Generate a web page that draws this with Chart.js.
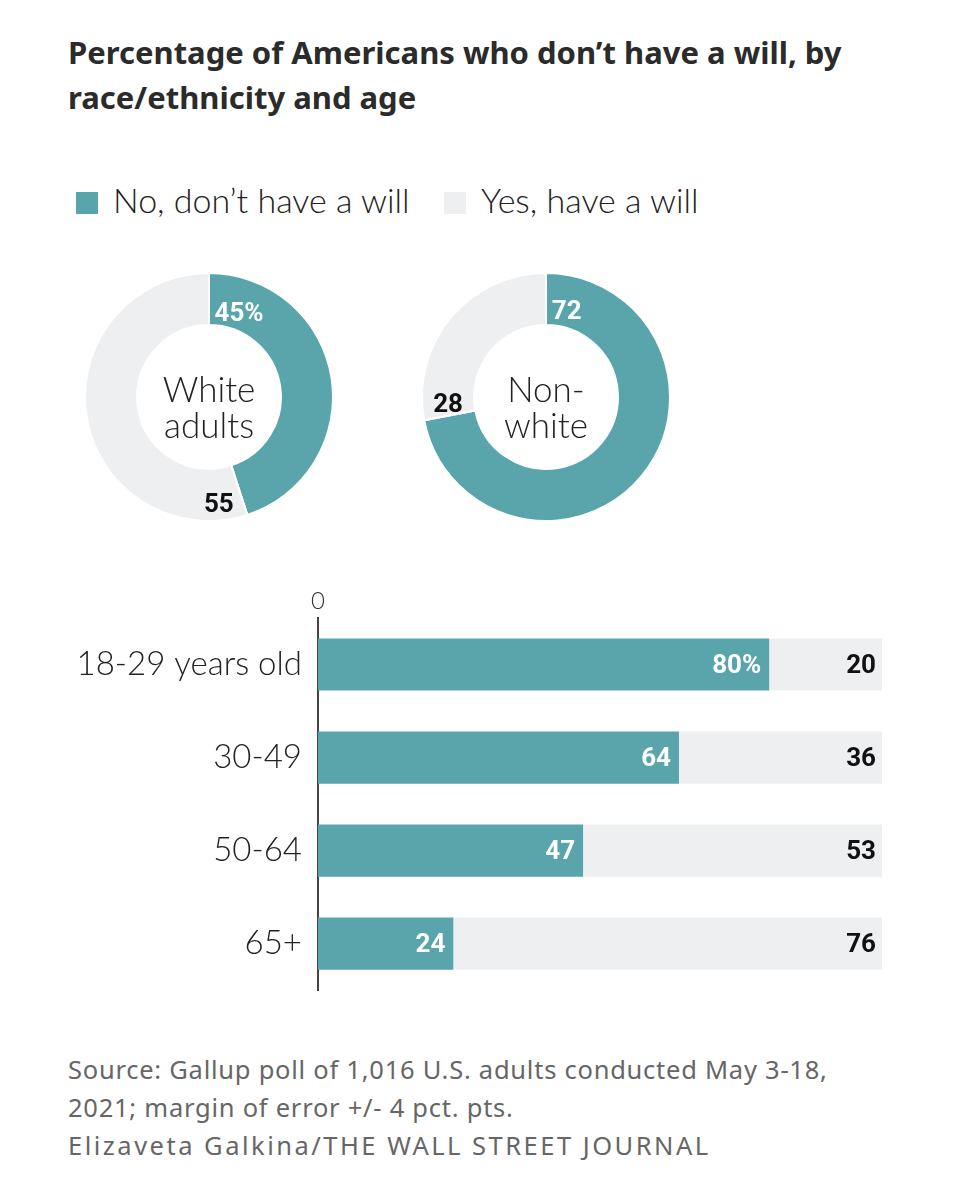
<!DOCTYPE html>
<html>
<head>
<meta charset="utf-8">
<script src="https://cdn.jsdelivr.net/npm/chart.js@4/dist/chart.umd.min.js"></script>
<style>
  body { margin: 0; background: #fff; width: 961px; height: 1200px; position: relative; font-family: 'Lato', 'Noto Sans', sans-serif; color: #222; }
  #title { position: absolute; left: 68px; top: 30px; width: 880px; font-family: 'Noto Sans', sans-serif; font-weight: 700; font-size: 31px; line-height: 45px; color: #2b2b2b; }
  .item { position: absolute; top: 178px; font-size: 34px; font-weight: 300; line-height: 44px; color: #222; white-space: nowrap; }
  .item span.box { display: inline-block; width: 22px; height: 22px; margin-right: 15px; vertical-align: -1px; }
  #source { position: absolute; left: 68px; top: 1050px; font-family: 'Noto Sans', sans-serif; font-size: 25.5px; letter-spacing: 0.75px; line-height: 38px; color: #666; }
  #source .credit { letter-spacing: 2.5px; }
  canvas { position: absolute; }
</style>
</head>
<body>
<div id="title">Percentage of Americans who don’t have a will, by<br>race/ethnicity and age</div>
<div id="legend"></div>
<canvas id="donut1" width="250" height="250" style="left:84px; top:272px"></canvas>
<canvas id="donut2" width="250" height="250" style="left:421px; top:272px"></canvas>
<canvas id="bars" width="900" height="466" style="left:0px; top:560px"></canvas>
<div id="source">Source: Gallup poll of 1,016 U.S. adults conducted May 3-18,<br>2021; margin of error +/- 4 pct. pts.<br><span class="credit">Elizaveta Galkina/THE WALL STREET JOURNAL</span></div>
<script>
// datos
const seriesNames = ['No, don’t have a will', 'Yes, have a will'];
const raceGroups = ['White adults', 'Non-white'];
const raceCenter = [['White', 'adults'], ['Non-', 'white']];
const raceNo = [45, 72];
const raceYes = [55, 28];
const ageGroups = ['18-29 years old', '30-49', '50-64', '65+'];
const ageNo = [80, 64, 47, 24];
const ageYes = [20, 36, 53, 76];
const xTicks = [0];

const TEAL = '#59a5ab';
const GRAY = '#eeeff1';
const NUM_FONT = "'Liberation Sans Narrow', 'Roboto', sans-serif";

// leyenda
const legend = document.getElementById('legend');
const legendLeft = [76, 444];
[TEAL, GRAY].forEach((c, i) => {
    legend.innerHTML += '<div class="item" style="left:' + legendLeft[i] + 'px"><span class="box" style="background:' + c + '"></span>' + seriesNames[i] + '</div>';
});

// etiquetas de las donas
const donutLabels = {
    id: 'donutLabels',
    afterDatasetsDraw(chart, args, opts) {
        const ctx = chart.ctx;
        const arcs = chart.getDatasetMeta(0).data;
        ctx.save();
        ctx.font = 'bold 26px ' + NUM_FONT;
        ctx.textAlign = 'center';
        ctx.textBaseline = 'middle';
        arcs.forEach((arc, i) => {
            const v = chart.data.datasets[0].data[i];
            const txt = (i === 0 && opts.pct) ? v + '%' : String(v);
            const r = (arc.innerRadius + arc.outerRadius) / 2;
            const w = ctx.measureText(txt).width;
            const a = arc.startAngle + (w / 2 + 6) / r;
            ctx.fillStyle = i === 0 ? '#fff' : '#111';
            ctx.fillText(txt, arc.x + r * Math.cos(a), arc.y + r * Math.sin(a) + 11);
        });
        // texto central
        const c = arcs[0];
        ctx.font = "300 35px 'Lato', sans-serif";
        ctx.fillStyle = '#222';
        ctx.textBaseline = 'alphabetic';
        opts.center.forEach((line, j) => {
            ctx.fillText(line, c.x, c.y + 5 + j * 36);
        });
        ctx.restore();
    }
};

function makeDonut(id, idx) {
    new Chart(document.getElementById(id), {
        type: 'doughnut',
        data: {
            labels: seriesNames,
            datasets: [{
                data: [raceNo[idx], raceYes[idx]],
                backgroundColor: [TEAL, GRAY],
                borderColor: '#fff',
                borderWidth: 2
            }]
        },
        options: {
            responsive: false,
            animation: false,
            cutout: '58%',
            plugins: {
                legend: { display: false },
                tooltip: { enabled: false },
                donutLabels: { pct: idx === 0, center: raceCenter[idx] }
            }
        },
        plugins: [donutLabels]
    });
}
makeDonut('donut1', 0);
makeDonut('donut2', 1);

// etiquetas de las barras
const barLabels = {
    id: 'barLabels',
    afterDatasetsDraw(chart) {
        const ctx = chart.ctx;
        ctx.save();
        ctx.font = 'bold 26px ' + NUM_FONT;
        ctx.textAlign = 'right';
        ctx.textBaseline = 'middle';
        chart.data.datasets.forEach((ds, di) => {
            chart.getDatasetMeta(di).data.forEach((bar, i) => {
                const v = ds.data[i];
                const txt = (di === 0 && i === 0) ? v + '%' : String(v);
                ctx.fillStyle = di === 0 ? '#fff' : '#111';
                ctx.fillText(txt, bar.x - (di === 0 ? 8 : 6), bar.y + 2);
            });
        });
        ctx.restore();
    }
};

new Chart(document.getElementById('bars'), {
    type: 'bar',
    data: {
        labels: ageGroups,
        datasets: [
            { label: seriesNames[0], data: ageNo, backgroundColor: TEAL, borderWidth: 0 },
            { label: seriesNames[1], data: ageYes, backgroundColor: GRAY, borderWidth: 0 }
        ]
    },
    options: {
        indexAxis: 'y',
        responsive: false,
        animation: false,
        layout: { padding: { right: 18 } },
        scales: {
            x: {
                position: 'top',
                stacked: true,
                min: 0,
                max: 100,
                grid: { display: false, drawTicks: false },
                border: { display: false },
                afterFit: (scale) => { scale.height = 58; },
                afterBuildTicks: (scale) => { scale.ticks = xTicks.map(v => ({ value: v })); },
                ticks: {
                    padding: 2,
                    color: '#333',
                    font: { family: 'Lato', size: 24, weight: '300' },
                    callback: (v) => String(v)
                }
            },
            y: {
                stacked: true,
                grid: { display: false, drawTicks: false },
                border: { display: true, color: '#444', width: 2 },
                afterFit: (scale) => { scale.width = 318; },
                ticks: {
                    padding: 16,
                    color: '#222',
                    font: { family: 'Lato', size: 33, weight: '300' }
                }
            }
        },
        datasets: { bar: { barPercentage: 0.8, categoryPercentage: 0.7 } },
        plugins: {
            legend: { display: false },
            tooltip: { enabled: false }
        }
    },
    plugins: [barLabels]
});
</script>
</body>
</html>
